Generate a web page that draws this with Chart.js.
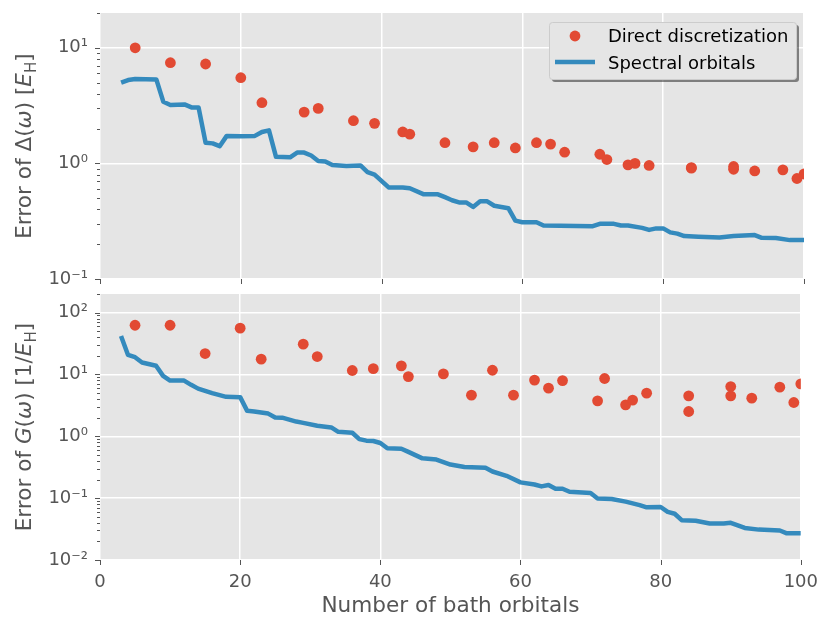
<!DOCTYPE html>
<html>
<head>
<meta charset="utf-8">
<script src="https://cdn.jsdelivr.net/npm/chart.js@4.4.0/dist/chart.umd.min.js"></script>
<style>
  body { margin: 0; background: #fff; }
  #wrap { position: relative; width: 830px; height: 623px; }
  #wrap canvas { position: absolute; left: 0; top: 0; }
</style>
</head>
<body>
<div id="wrap">
  <canvas id="bottomChart" width="830" height="623"></canvas>
  <canvas id="topChart" width="830" height="623"></canvas>
</div>
<script>
// Direct discretization: bath sizes (same for both panels) and errors
const directN = [5, 10, 15, 20, 23, 29, 31, 36, 39, 43, 44, 49, 53, 56, 59, 62, 64, 66, 71, 72, 75, 76, 78, 84, 84, 90, 90, 93, 97, 99, 100];
const directDelta = [10.0, 7.43, 7.24, 5.51, 3.35, 2.78, 2.99, 2.34, 2.22, 1.87, 1.79, 1.51, 1.39, 1.51, 1.36, 1.51, 1.47, 1.25, 1.20, 1.08, 0.97, 1.0, 0.96, 0.91, 0.92, 0.94, 0.89, 0.86, 0.88, 0.74, 0.81];
const directG = [62.5, 62.5, 21.8, 56, 17.7, 30.9, 19.5, 11.6, 12.4, 13.8, 9.25, 10.2, 4.63, 11.7, 4.63, 8.1, 6.0, 7.97, 3.75, 8.6, 3.23, 3.85, 4.99, 4.51, 2.52, 6.38, 4.51, 4.14, 6.24, 3.52, 7.05];

// Spectral orbitals: vertices of the line, top panel
const spectralDeltaN = [3, 4, 5, 8, 9, 10, 12, 13, 14, 15, 16, 17, 18, 20, 22, 23, 24, 25, 27, 28, 29, 30, 31, 32, 33, 35, 37, 38, 39, 41, 43, 44, 46, 48, 49, 50, 51, 52, 53, 54, 55, 56, 58, 59, 60, 62, 63, 70, 71, 73, 74, 75, 77, 78, 79, 80, 81, 82, 83, 85, 88, 90, 93, 94, 96, 98, 100];
const spectralDelta = [4.99, 5.26, 5.37, 5.33, 3.41, 3.2, 3.24, 3.05, 3.05, 1.51, 1.49, 1.41, 1.73, 1.72, 1.73, 1.87, 1.93, 1.14, 1.13, 1.24, 1.24, 1.17, 1.05, 1.04, 0.97, 0.95, 0.96, 0.84, 0.80, 0.62, 0.62, 0.61, 0.54, 0.54, 0.51, 0.48, 0.46, 0.46, 0.42, 0.47, 0.47, 0.43, 0.41, 0.32, 0.31, 0.31, 0.29, 0.286, 0.30, 0.30, 0.29, 0.29, 0.277, 0.266, 0.274, 0.274, 0.253, 0.247, 0.235, 0.232, 0.229, 0.235, 0.24, 0.227, 0.226, 0.217, 0.217];

// Spectral orbitals: vertices of the line, bottom panel
const spectralGN = [3, 4, 5, 6, 8, 9, 10, 12, 13, 14, 16, 18, 20, 21, 22, 24, 25, 26, 28, 29, 31, 33, 34, 36, 37, 38, 39, 40, 41, 43, 44, 46, 48, 50, 52, 55, 56, 58, 60, 62, 63, 64, 65, 66, 67, 70, 71, 73, 75, 77, 78, 80, 81, 82, 83, 85, 87, 89, 90, 92, 94, 97, 98, 100];
const spectralG = [42, 20.7, 19.0, 15.6, 13.8, 9.5, 7.97, 7.97, 6.8, 5.9, 5.0, 4.35, 4.3, 2.58, 2.52, 2.33, 2.01, 2.0, 1.73, 1.65, 1.48, 1.39, 1.18, 1.14, 0.90, 0.85, 0.84, 0.78, 0.64, 0.63, 0.56, 0.44, 0.42, 0.35, 0.32, 0.31, 0.27, 0.23, 0.18, 0.166, 0.155, 0.163, 0.142, 0.142, 0.127, 0.121, 0.099, 0.097, 0.088, 0.077, 0.071, 0.072, 0.060, 0.056, 0.044, 0.043, 0.039, 0.039, 0.040, 0.033, 0.031, 0.030, 0.027, 0.027];

const xTicks = [0, 20, 40, 60, 80, 100];
const deltaDecades = [0.1, 1, 10];
const deltaDecadeLabels = ['10⁻¹', '10⁰', '10¹'];
const gDecades = [0.01, 0.1, 1, 10, 100];
const gDecadeLabels = ['10⁻²', '10⁻¹', '10⁰', '10¹', '10²'];

const seriesNames = ['Direct discretization', 'Spectral orbitals'];
const xTitle = 'Number of bath orbitals';
// y titles as [text, style]: n = normal, i = italic, s = subscript
const deltaTitle = [['Error of ', 'n'], ['Δ(', 'n'], ['ω', 'i'], [') [', 'n'], ['E', 'i'], ['H', 's'], [']', 'n']];
const gTitle = [['Error of ', 'n'], ['G', 'i'], ['(', 'n'], ['ω', 'i'], [') [1/', 'n'], ['E', 'i'], ['H', 's'], [']', 'n']];

const FONT = 'DejaVu Sans';
const GRAY = '#555555';
const RED = '#E24A33';
const BLUE = '#348ABD';

Chart.defaults.font.family = FONT;
Chart.defaults.color = GRAY;

function pairs(xs, ys) {
    return xs.map((x, i) => ({ x: x, y: ys[i] }));
}

// decade ticks plus the 2..9 minor ticks of each decade
function logTicks(decades, max) {
    const ticks = [];
    decades.forEach(d => {
        ticks.push({ value: d, major: true });
        for (let k = 2; k <= 9; k++) {
            const v = +(k * d).toPrecision(3);
            if (v <= max * 1.0001) ticks.push({ value: v, major: false });
        }
    });
    return ticks.sort((a, b) => a.value - b.value);
}

const panelBackground = {
    id: 'panelBackground',
    beforeDraw(chart) {
        const a = chart.chartArea, ctx = chart.ctx;
        ctx.save();
        ctx.fillStyle = '#E5E5E5';
        ctx.fillRect(a.left, a.top, a.right - a.left, a.bottom - a.top);
        ctx.restore();
    }
};

const tickMarks = {
    id: 'tickMarks',
    afterDraw(chart) {
        const ctx = chart.ctx, a = chart.chartArea;
        const xs = chart.scales.x, ys = chart.scales.y;
        ctx.save();
        ctx.strokeStyle = GRAY;
        ctx.lineWidth = 1;
        ctx.beginPath();
        xs.ticks.forEach(t => {
            const px = Math.round(xs.getPixelForValue(t.value)) + 0.5;
            ctx.moveTo(px, a.bottom);
            ctx.lineTo(px, a.bottom + 5);
        });
        ys.ticks.forEach(t => {
            const py = Math.round(ys.getPixelForValue(t.value)) + 0.5;
            ctx.moveTo(a.left, py);
            ctx.lineTo(a.left - (t.major ? 5 : 3), py);
        });
        ctx.stroke();
        ctx.restore();
    }
};

const boxLegend = {
    id: 'boxLegend',
    afterDatasetsDraw(chart) {
        const ctx = chart.ctx;
        const ds = chart.data.datasets;
        const bx = 549, by = 22, bw = 247, bh = 57;
        ctx.save();
        // shadow
        ctx.fillStyle = 'rgba(0,0,0,0.45)';
        ctx.beginPath();
        ctx.roundRect(bx + 3, by + 3, bw, bh, 3);
        ctx.fill();
        // frame
        ctx.fillStyle = '#E5E5E5';
        ctx.strokeStyle = '#CCCCCC';
        ctx.lineWidth = 1;
        ctx.beginPath();
        ctx.roundRect(bx + 0.5, by + 0.5, bw, bh, 3);
        ctx.fill();
        ctx.stroke();
        // entries
        ctx.fillStyle = RED;
        ctx.beginPath();
        ctx.arc(575, 36, 5.4, 0, Math.PI * 2);
        ctx.fill();
        ctx.strokeStyle = BLUE;
        ctx.lineWidth = 4.5;
        ctx.beginPath();
        ctx.moveTo(555, 62);
        ctx.lineTo(595, 62);
        ctx.stroke();
        ctx.fillStyle = '#000000';
        ctx.font = '18px "' + FONT + '"';
        ctx.textBaseline = 'alphabetic';
        ctx.fillText(ds[0].label, 608, 42);
        ctx.fillText(ds[1].label, 608, 69);
        ctx.restore();
    }
};

function mathTitle(segs) {
    return {
        id: 'mathTitle',
        afterDraw(chart) {
            const ctx = chart.ctx, a = chart.chartArea;
            const size = 21.6;
            const fontFor = k => k === 'i' ? 'italic ' + size + 'px "' + FONT + '"'
                : k === 's' ? (size * 0.7) + 'px "' + FONT + '"'
                : size + 'px "' + FONT + '"';
            ctx.save();
            ctx.fillStyle = GRAY;
            ctx.textBaseline = 'alphabetic';
            let total = 0;
            segs.forEach(s => { ctx.font = fontFor(s[1]); total += ctx.measureText(s[0]).width; });
            ctx.translate(31, (a.top + a.bottom) / 2);
            ctx.rotate(-Math.PI / 2);
            let x = -total / 2;
            segs.forEach(s => {
                ctx.font = fontFor(s[1]);
                ctx.fillText(s[0], x, s[1] === 's' ? size * 0.22 : 0);
                x += ctx.measureText(s[0]).width;
            });
            ctx.restore();
        }
    };
}

function makePanel(id, p) {
    return new Chart(document.getElementById(id), {
        type: 'scatter',
        data: {
            datasets: [{
                label: seriesNames[0],
                data: pairs(directN, p.direct),
                showLine: false,
                pointRadius: 5.4,
                pointHoverRadius: 5.4,
                pointBorderWidth: 0,
                pointBackgroundColor: RED,
                backgroundColor: RED,
                borderColor: RED,
                clip: 0,
                order: 2
            }, {
                label: seriesNames[1],
                data: pairs(p.lineN, p.line),
                showLine: true,
                pointRadius: 0,
                borderColor: BLUE,
                backgroundColor: BLUE,
                borderWidth: 4.5,
                borderJoinStyle: 'round',
                tension: 0,
                clip: 0,
                order: 1
            }]
        },
        options: {
            responsive: false,
            animation: false,
            layout: { padding: { left: 0, right: 26, top: p.top, bottom: p.bottom } },
            plugins: { legend: { display: false }, tooltip: { enabled: false } },
            scales: {
                x: {
                    type: 'linear',
                    min: 0,
                    max: 100,
                    afterBuildTicks: s => { s.ticks = xTicks.map(v => ({ value: v })); },
                    afterFit: s => { s.height = p.xHeight; },
                    grid: { color: '#FFFFFF', lineWidth: 1.5, drawTicks: false },
                    border: { display: false },
                    ticks: { display: p.xLabels, padding: 12, color: GRAY, font: { size: 18 }, maxRotation: 0 },
                    title: { display: p.xLabels, text: xTitle, color: GRAY, font: { size: 21.6 }, padding: { top: 0, bottom: 4 } }
                },
                y: {
                    type: 'logarithmic',
                    min: p.min,
                    max: p.max,
                    afterBuildTicks: s => { s.ticks = logTicks(p.decades, p.max); },
                    afterFit: s => {
                        s.width = 100;
                        // the outer labels must not push the plot area around
                        s.paddingTop = 0;
                        s.paddingBottom = 0;
                    },
                    grid: {
                        color: c => (c.tick && c.tick.major) ? '#FFFFFF' : 'rgba(0,0,0,0)',
                        lineWidth: 1.5,
                        drawTicks: false
                    },
                    border: { display: false },
                    ticks: {
                        autoSkip: false,
                        padding: 12,
                        color: GRAY,
                        font: { size: 18 },
                        callback: v => {
                            const k = p.decades.findIndex(d => Math.abs(d - v) < d * 1e-6);
                            return k >= 0 ? p.labels[k] : '';
                        }
                    }
                }
            }
        },
        plugins: p.plugins
    });
}

makePanel('bottomChart', {
    direct: directG, lineN: spectralGN, line: spectralG,
    min: 0.01, max: 200, decades: gDecades, labels: gDecadeLabels,
    top: 294, bottom: 0, xHeight: 63, xLabels: true,
    plugins: [panelBackground, tickMarks, mathTitle(gTitle)]
});

makePanel('topChart', {
    direct: directDelta, lineN: spectralDeltaN, line: spectralDelta,
    min: 0.1, max: 20, decades: deltaDecades, labels: deltaDecadeLabels,
    top: 13, bottom: 336, xHeight: 8, xLabels: false,
    plugins: [panelBackground, tickMarks, boxLegend, mathTitle(deltaTitle)]
});
</script>
</body>
</html>
